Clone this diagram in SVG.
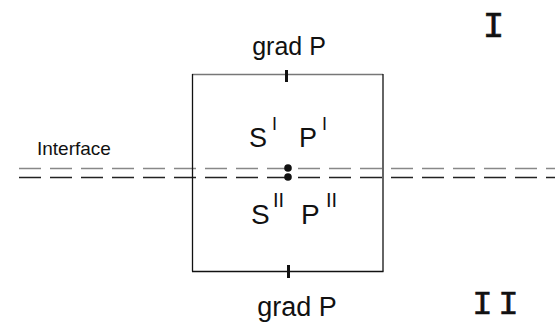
<svg xmlns="http://www.w3.org/2000/svg" width="555" height="323" viewBox="0 0 555 323">
<style>
.t{font-family:"Liberation Sans",Arial,sans-serif;fill:#111}
.r{font-family:"Liberation Mono","Courier New",monospace;fill:#111;stroke:#111;stroke-width:0.6}
</style>
<rect width="555" height="323" fill="#fff"/>
<g id="connectors">
<line x1="19" y1="168.5" x2="555" y2="168.5" stroke="#888" stroke-width="1.5" stroke-dasharray="22 9"/>
<line x1="19" y1="177.5" x2="555" y2="177.5" stroke="#222" stroke-width="1.3" stroke-dasharray="22 9"/>
</g>
<g id="box">
<line x1="192" y1="74.5" x2="383" y2="74.5" stroke="#777" stroke-width="1.3"/>
<line x1="192.5" y1="74" x2="192.5" y2="271.5" stroke="#111" stroke-width="1.3"/>
<line x1="383" y1="74" x2="383" y2="271.5" stroke="#111" stroke-width="1.3"/>
<line x1="192" y1="271.5" x2="383.5" y2="271.5" stroke="#111" stroke-width="1.3"/>
<line x1="286.5" y1="70" x2="286.5" y2="82" stroke="#111" stroke-width="3"/>
<line x1="288.5" y1="265" x2="288.5" y2="278" stroke="#111" stroke-width="3"/>
<circle cx="288" cy="168" r="3.8" fill="#111"/>
<circle cx="288" cy="177" r="3.8" fill="#111"/>
</g>
<g id="labels">
<text class="t" x="289" y="55" font-size="25" text-anchor="middle">grad P</text>
<text class="t" x="297" y="316" font-size="27" text-anchor="middle">grad P</text>
<text class="t" x="37" y="155" font-size="19">Interface</text>
<text class="t" x="249" y="147" font-size="27">S</text>
<text class="t" x="272" y="130" font-size="18">I</text>
<text class="t" x="299" y="147" font-size="27">P</text>
<text class="t" x="322" y="130" font-size="18">I</text>
<text class="t" x="251" y="224" font-size="28">S</text>
<text class="t" x="273" y="207" font-size="20">II</text>
<text class="t" x="301" y="224" font-size="28">P</text>
<text class="t" x="326" y="207" font-size="20">II</text>
<text class="r" x="493.5" y="37" font-size="36" text-anchor="middle">I</text>
<text class="r" x="482.5" y="314" font-size="34" text-anchor="middle">I</text>
<text class="r" x="508.5" y="314" font-size="34" text-anchor="middle">I</text>
</g>
</svg>
